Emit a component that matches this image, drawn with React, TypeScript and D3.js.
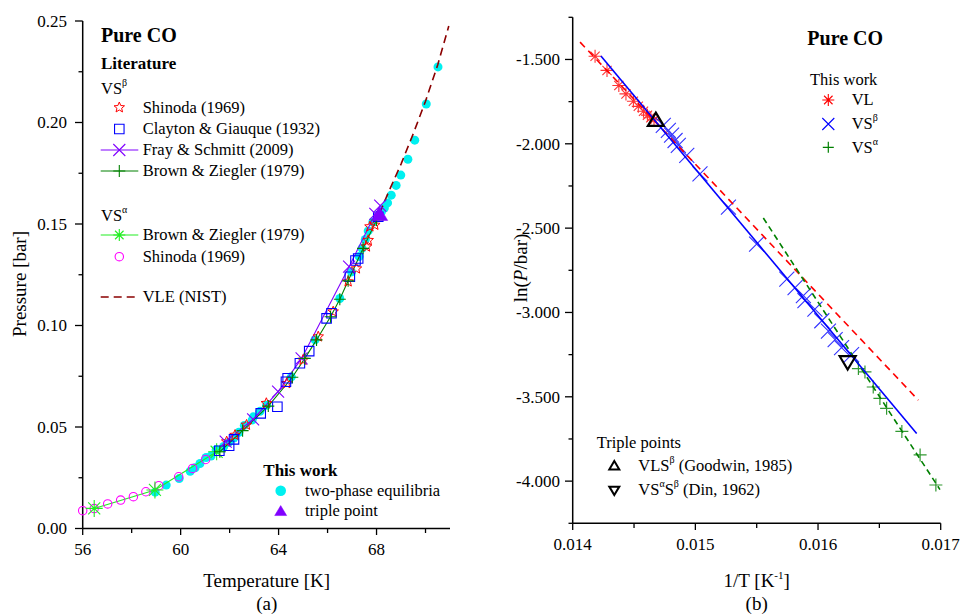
import React from 'react';
import * as d3 from 'd3';

// ---------- Data: left panel (T [K], P [bar]) ----------
const shinodaBeta: [number, number][] = [[61.88,0.0428],[62.22,0.046],[62.69,0.051],[63.5,0.0617],[64.33,0.0715],[65.0,0.083],[65.62,0.0945],[66.23,0.1068],[66.84,0.1216],[67.18,0.128],[67.59,0.1388],[67.66,0.142],[67.73,0.1487],[67.93,0.1495]];
const claytonGiauque: [number, number][] = [[61.58,0.0383],[61.98,0.0408],[62.18,0.0439],[63.27,0.0567],[63.95,0.060],[64.30,0.0723],[64.37,0.074],[64.87,0.0814],[65.25,0.0874],[65.96,0.1035],[66.16,0.106],[66.91,0.124],[67.14,0.132],[67.25,0.133],[68.07,0.1536]];
const fraySchmitt: [number, number][] = [[61.84,0.0428],[62.96,0.0538],[63.98,0.0674],[64.94,0.0838],[66.88,0.129],[67.95,0.155],[68.15,0.159]];
const brownZieglerBeta: [number, number][] = [[61.6,0.0378],[62.53,0.0482],[63.58,0.0603],[64.56,0.0745],[65.07,0.0838],[65.55,0.0929],[66.12,0.1043],[66.5,0.1129],[66.84,0.122],[67.45,0.138],[68.0,0.152]];
const brownZieglerAlpha: [number, number][] = [[56.47,0.0099],[58.95,0.019],[61.47,0.0378]];
const shinodaAlpha: [number, number][] = [[56.0,0.0088],[56.47,0.0098],[57.02,0.0121],[57.55,0.014],[58.07,0.0157],[58.58,0.0181],[59.11,0.0211],[59.92,0.0255],[60.49,0.0296],[61.02,0.034]];
const vleNist: [number, number][] = [[68.13,0.1554],[68.5,0.166],[69.0,0.1795],[69.5,0.1945],[70.0,0.2105],[70.5,0.2285],[70.95,0.2475]];

// This work (T [K], P [bar])
const thisWorkVL: [number, number][] = [[70.51,0.2274],[70.03,0.2091],[69.56,0.1913],[69.28,0.1819],[68.99,0.1741],[68.80,0.1690],[68.60,0.1642],[68.45,0.1604],[68.32,0.1579],[68.20,0.1560]];
const thisWorkVSBeta: [number, number][] = [[67.85,0.151],[67.66,0.1466],[67.54,0.1424],[67.41,0.138],[67.29,0.134],[66.98,0.1264],[66.50,0.1133],[65.49,0.093],[64.52,0.0747],[63.51,0.0607],[63.24,0.0577],[62.97,0.055],[62.92,0.0534],[62.60,0.0508],[62.38,0.0474],[62.17,0.0446],[61.96,0.0424],[61.76,0.0404],[61.45,0.0388]];
const thisWorkVSAlpha: [number, number][] = [[61.24,0.0357],[61.04,0.035],[60.79,0.032],[60.59,0.0299],[60.39,0.0282],[59.94,0.0246],[59.41,0.0214],[58.96,0.0179]];
const thisWorkTriple: [number, number][] = [[68.13,0.1544]];

// Triple points from literature (T [K], P [bar])
const goodwinVLS: [number, number][] = [[68.13,0.1554]];
const dinVSS: [number, number][] = [[61.57,0.0372]];

// Fit lines, right panel (1/T [1/K], ln(P/bar))
const vlFit: [number, number][] = [[0.01406,-1.397],[0.016818,-3.52]];
const vsBetaFit: [number, number][] = [[0.01423,-1.48],[0.016804,-3.718]];
const vsAlphaFit: [number, number][] = [[0.015554,-2.44],[0.016994,-4.05]];

// Ticks
const leftXMajor = [56, 60, 64, 68];
const leftXMinor = [58, 62, 66, 70];
const leftYMajor = [0, 0.05, 0.1, 0.15, 0.2, 0.25];
const leftYMinor = [0.025, 0.075, 0.125, 0.175, 0.225];
const rightXMajor = [0.014, 0.015, 0.016, 0.017];
const rightXMinor = [0.0145, 0.0155, 0.0165];
const rightYMajor = [-4.0, -3.5, -3.0, -2.5, -2.0, -1.5];
const rightYMinor = [-4.25, -3.75, -3.25, -2.75, -2.25, -1.75, -1.25];

const FONT = "'Liberation Serif','Times New Roman',serif";
const C = {
  red: '#ff0000', blue: '#0000ff', purple: '#8000ff', green: '#008000',
  lime: '#22ee22', magenta: '#ff00ff', cyan: '#00f0f0', darkred: '#8b0000',
};

function markerPath(kind: string, s: number): string {
  const h = s / 2;
  switch (kind) {
    case 'x': return `M${-h},${-h}L${h},${h}M${-h},${h}L${h},${-h}`;
    case 'plus': return `M${-h},0L${h},0M0,${-h}L0,${h}`;
    case 'ast': {
      const d = h * 0.7071;
      return `M${-h},0L${h},0M0,${-h}L0,${h}M${-d},${-d}L${d},${d}M${-d},${d}L${d},${-d}`;
    }
    case 'square': return `M${-h},${-h}H${h}V${h}H${-h}Z`;
    case 'star': {
      let p = '';
      for (let i = 0; i < 10; i++) {
        const r = i % 2 === 0 ? h : h * 0.45;
        const a = -Math.PI / 2 + (i * Math.PI) / 5;
        p += (i === 0 ? 'M' : 'L') + (r * Math.cos(a)).toFixed(2) + ',' + (r * Math.sin(a)).toFixed(2);
      }
      return p + 'Z';
    }
    case 'tri': {
      const hh = h * 0.9;
      return `M0,${-hh * 1.1}L${h},${hh * 0.75}L${-h},${hh * 0.75}Z`;
    }
    case 'triDown': {
      const hh = h * 0.9;
      return `M0,${hh * 1.1}L${h},${-hh * 0.75}L${-h},${-hh * 0.75}Z`;
    }
  }
  return '';
}

type Pt = [number, number];

function Markers({ pts, kind, size, stroke, fill = 'none', sw = 1, opacity = 1 }:
  { pts: Pt[]; kind: string; size: number; stroke: string; fill?: string; sw?: number; opacity?: number }) {
  const d = markerPath(kind, size);
  return (
    <g opacity={opacity}>
      {pts.map((p, i) => (
        <path key={i} d={d} transform={`translate(${p[0]},${p[1]})`} stroke={stroke} fill={fill} strokeWidth={sw} strokeLinejoin="miter" />
      ))}
    </g>
  );
}

export default function App() {
  // Left scales
  const xL = d3.scaleLinear().domain([56, 71]).range([82.7, 450]);
  const yL = d3.scaleLinear().domain([0, 0.25]).range([528.5, 21]);
  // Right scales
  const xR = d3.scaleLinear().domain([0.014, 0.017]).range([572.7, 940.7]);
  const yR = d3.scaleLinear().domain([-4.25, -1.25]).range([523.3, 17.3]);

  const pL = (a: Pt[]): Pt[] => a.map(([t, p]) => [xL(t), yL(p)]);
  const pR = (a: Pt[]): Pt[] => a.map(([t, p]) => [xR(1 / t), yR(Math.log(p))]);
  const pRfit = (a: Pt[]): Pt[] => a.map(([x, y]) => [xR(x), yR(y)]);
  const line = d3.line<Pt>().x(d => d[0]).y(d => d[1]);
  const byT = (a: Pt[]) => [...a].sort((u, v) => u[0] - v[0]);

  const cyanAll = [...thisWorkVSAlpha, ...thisWorkVSBeta, ...thisWorkVL];

  const tickFont = { fontFamily: FONT, fontSize: 17 } as const;
  const legFont = { fontFamily: FONT, fontSize: 16.5 } as const;

  // Left legend layout
  const lgSymX = 119.3, lgTxtX = 142.7, lgL0 = 100.7, lgL1 = 138.3;
  const legRow = (cy: number, label: string, sym: React.ReactNode, lineCol?: string, dash?: string) => (
    <g>
      {lineCol && <line x1={lgL0} x2={lgL1} y1={cy} y2={cy} stroke={lineCol} strokeWidth={dash ? 1.6 : 1.2} strokeDasharray={dash} />}
      {sym}
      <text x={lgTxtX} y={cy} dy="0.33em" style={legFont}>{label}</text>
    </g>
  );
  const sym = (kind: string, size: number, stroke: string, cy: number, fill = 'none', sw = 1) => (
    <path d={markerPath(kind, size)} transform={`translate(${lgSymX},${cy})`} stroke={stroke} fill={fill} strokeWidth={sw} />
  );

  return (
    <svg width={961} height={615} style={{ position: 'absolute', left: 0, top: 0, background: '#fff' }}>
      <rect width={961} height={615} fill="#fff" />
      {/* ================= LEFT PANEL ================= */}
      <g>
        {/* axes */}
        <line x1={82.7} x2={82.7} y1={21} y2={528.5} stroke="#000" strokeWidth={1.5} />
        <line x1={82.7} x2={450} y1={528.5} y2={528.5} stroke="#000" strokeWidth={1.5} />
        {leftXMajor.map(v => (
          <g key={'lxm' + v}>
            <line x1={xL(v)} x2={xL(v)} y1={528.5} y2={535} stroke="#000" strokeWidth={1.3} />
            <text x={xL(v)} y={555} textAnchor="middle" style={tickFont}>{v}</text>
          </g>
        ))}
        {leftXMinor.map(v => (
          <line key={'lxn' + v} x1={xL(v)} x2={xL(v)} y1={528.5} y2={533} stroke="#000" strokeWidth={1.3} />
        ))}
        {leftYMajor.map(v => (
          <g key={'lym' + v}>
            <line x1={75} x2={82.7} y1={yL(v)} y2={yL(v)} stroke="#000" strokeWidth={1.3} />
            <text x={67} y={yL(v)} dy="0.34em" textAnchor="end" style={tickFont}>{v.toFixed(2)}</text>
          </g>
        ))}
        {leftYMinor.map(v => (
          <line key={'lyn' + v} x1={78.5} x2={82.7} y1={yL(v)} y2={yL(v)} stroke="#000" strokeWidth={1.3} />
        ))}
        <text x={266.7} y={587} textAnchor="middle" style={{ fontFamily: FONT, fontSize: 19 }}>Temperature [K]</text>
        <text x={266.7} y={610} textAnchor="middle" style={{ fontFamily: FONT, fontSize: 19 }}>(a)</text>
        <text transform="translate(26,284) rotate(-90)" textAnchor="middle" style={{ fontFamily: FONT, fontSize: 19 }}>Pressure [bar]</text>

        {/* this work cyan */}
        {pL(cyanAll).map((p, i) => <circle key={'cy' + i} cx={p[0]} cy={p[1]} r={4.5} fill={C.cyan} />)}
        {/* VLE NIST */}
        <path d={line(pL(vleNist)) || ''} fill="none" stroke={C.darkred} strokeWidth={1.6} strokeDasharray="8,5" />
        {/* literature lines */}
        <path d={line(pL(byT(fraySchmitt))) || ''} fill="none" stroke={C.purple} strokeWidth={1.1} />
        <path d={line(pL(byT(brownZieglerBeta))) || ''} fill="none" stroke={C.green} strokeWidth={1.1} />
        <path d={line(pL(byT(brownZieglerAlpha))) || ''} fill="none" stroke={C.lime} strokeWidth={1.1} />
        {/* literature markers */}
        <Markers pts={pL(shinodaAlpha)} kind="circle" size={0} stroke={C.magenta} />
        {pL(shinodaAlpha).map((p, i) => <circle key={'sa' + i} cx={p[0]} cy={p[1]} r={4.2} fill="none" stroke={C.magenta} strokeWidth={1.1} />)}
        <Markers pts={pL(brownZieglerAlpha)} kind="ast" size={17} stroke={C.lime} sw={1.1} />
        <Markers pts={pL(shinodaBeta)} kind="star" size={11} stroke={C.red} sw={1} />
        <Markers pts={pL(claytonGiauque)} kind="square" size={9.5} stroke={C.blue} sw={1.1} />
        <Markers pts={pL(fraySchmitt)} kind="x" size={12} stroke={C.purple} sw={1.1} />
        <Markers pts={pL(brownZieglerBeta)} kind="plus" size={12} stroke={C.green} sw={1.1} />
        {/* triple point this work */}
        <Markers pts={pL(thisWorkTriple)} kind="tri" size={16} stroke={C.purple} fill={C.purple} sw={0.5} />

        {/* legend */}
        <text x={101} y={42} style={{ fontFamily: FONT, fontSize: 20, fontWeight: 'bold' }}>Pure CO</text>
        <text x={101} y={69} style={{ fontFamily: FONT, fontSize: 17, fontWeight: 'bold' }}>Literature</text>
        <text x={101} y={94} style={legFont}>VS<tspan dy={-8} fontSize={10}>β</tspan></text>
        {legRow(107.5, 'Shinoda (1969)', sym('star', 11, C.red, 107.5))}
        {legRow(129, 'Clayton & Giauque (1932)', sym('square', 9.5, C.blue, 129, 'none', 1.1))}
        {legRow(150, 'Fray & Schmitt (2009)', sym('x', 12, C.purple, 150, 'none', 1.1), C.purple)}
        {legRow(171, 'Brown & Ziegler (1979)', sym('plus', 12, C.green, 171, 'none', 1.1), C.green)}
        <text x={101} y={221} style={legFont}>VS<tspan dy={-8} fontSize={10}>α</tspan></text>
        {legRow(235, 'Brown & Ziegler (1979)', sym('ast', 12, C.lime, 235, 'none', 1.1), C.lime)}
        {legRow(256.7, 'Shinoda (1969)', <circle cx={lgSymX} cy={256.7} r={4.2} fill="none" stroke={C.magenta} strokeWidth={1.1} />)}
        {legRow(297, 'VLE (NIST)', null, C.darkred, '8,5')}

        <text x={263.3} y={475.5} style={{ fontFamily: FONT, fontSize: 17, fontWeight: 'bold' }}>This work</text>
        <circle cx={280.7} cy={490.7} r={5.3} fill={C.cyan} />
        <text x={305} y={490.7} dy="0.33em" style={legFont}>two-phase equilibria</text>
        <path d={markerPath('tri', 12)} transform="translate(280.7,511.5)" fill={C.purple} stroke={C.purple} strokeWidth={0.5} />
        <text x={305} y={511} dy="0.33em" style={legFont}>triple point</text>
      </g>

      {/* ================= RIGHT PANEL ================= */}
      <g>
        <line x1={572.7} x2={572.7} y1={17.3} y2={523.3} stroke="#000" strokeWidth={1.5} />
        <line x1={572.7} x2={940.7} y1={523.3} y2={523.3} stroke="#000" strokeWidth={1.5} />
        {rightXMajor.map(v => (
          <g key={'rxm' + v}>
            <line x1={xR(v)} x2={xR(v)} y1={523.3} y2={530} stroke="#000" strokeWidth={1.3} />
            <text x={xR(v)} y={550} textAnchor="middle" style={tickFont}>{v.toFixed(3)}</text>
          </g>
        ))}
        {rightXMinor.map(v => (
          <line key={'rxn' + v} x1={xR(v)} x2={xR(v)} y1={523.3} y2={528} stroke="#000" strokeWidth={1.3} />
        ))}
        {rightYMajor.map(v => (
          <g key={'rym' + v}>
            <line x1={565} x2={572.7} y1={yR(v)} y2={yR(v)} stroke="#000" strokeWidth={1.3} />
            <text x={560} y={yR(v)} dy="0.34em" textAnchor="end" style={tickFont}>{v.toFixed(3)}</text>
          </g>
        ))}
        {rightYMinor.map(v => (
          <line key={'ryn' + v} x1={568.5} x2={572.7} y1={yR(v)} y2={yR(v)} stroke="#000" strokeWidth={1.3} />
        ))}
        <text x={756.7} y={587} textAnchor="middle" style={{ fontFamily: FONT, fontSize: 19 }}>1/T [K<tspan dy={-8} fontSize={11}>-1</tspan><tspan dy={8}>]</tspan></text>
        <text x={756.7} y={610} textAnchor="middle" style={{ fontFamily: FONT, fontSize: 19 }}>(b)</text>
        <text transform="translate(527,268) rotate(-90)" textAnchor="middle" style={{ fontFamily: FONT, fontSize: 19 }}>ln(<tspan fontStyle="italic">P</tspan>/bar)</text>

        {/* markers */}
        <Markers pts={pR(thisWorkVL)} kind="ast" size={13} stroke={C.red} sw={1.1} opacity={0.8} />
        <Markers pts={pR(thisWorkVSBeta)} kind="x" size={15} stroke={C.blue} sw={1.1} opacity={0.8} />
        <Markers pts={pR(thisWorkVSAlpha)} kind="plus" size={13} stroke={C.green} sw={1.2} opacity={0.8} />
        {/* fit lines */}
        <path d={line(pRfit(vlFit)) || ''} fill="none" stroke={C.red} strokeWidth={1.6} strokeDasharray="7,5" />
        <path d={line(pRfit(vsAlphaFit)) || ''} fill="none" stroke={C.green} strokeWidth={1.6} strokeDasharray="6,4" />
        <path d={line(pRfit(vsBetaFit)) || ''} fill="none" stroke={C.blue} strokeWidth={1.6} />
        {/* triple points */}
        <Markers pts={pR(goodwinVLS)} kind="tri" size={16} stroke="#000" sw={2.2} />
        <Markers pts={pR(dinVSS)} kind="triDown" size={16} stroke="#000" sw={2.2} />

        {/* legend */}
        <text x={807.3} y={45} style={{ fontFamily: FONT, fontSize: 20, fontWeight: 'bold' }}>Pure CO</text>
        <text x={810} y={85} style={legFont}>This work</text>
        <path d={markerPath('ast', 12)} transform="translate(828.3,100)" stroke={C.red} fill="none" strokeWidth={1.1} />
        <text x={851.7} y={100} dy="0.33em" style={legFont}>VL</text>
        <path d={markerPath('x', 12)} transform="translate(828.3,124)" stroke={C.blue} fill="none" strokeWidth={1.1} />
        <text x={851.7} y={124} dy="0.33em" style={legFont}>VS<tspan dy={-8} fontSize={10}>β</tspan></text>
        <path d={markerPath('plus', 11)} transform="translate(828.3,147.3)" stroke={C.green} fill="none" strokeWidth={1.2} />
        <text x={851.7} y={147.3} dy="0.33em" style={legFont}>VS<tspan dy={-8} fontSize={10}>α</tspan></text>

        <text x={596.7} y={447.5} style={legFont}>Triple points</text>
        <path d={markerPath('tri', 10)} transform="translate(614.3,466)" stroke="#000" fill="none" strokeWidth={2} />
        <text x={638.3} y={465.7} dy="0.33em" style={legFont}>VLS<tspan dy={-8} fontSize={10}>β</tspan><tspan dy={8}> (Goodwin, 1985)</tspan></text>
        <path d={markerPath('triDown', 10)} transform="translate(614.3,490)" stroke="#000" fill="none" strokeWidth={2} />
        <text x={638.3} y={490} dy="0.33em" style={legFont}>VS<tspan dy={-8} fontSize={10}>α</tspan><tspan dy={8}>S</tspan><tspan dy={-8} fontSize={10}>β</tspan><tspan dy={8}> (Din, 1962)</tspan></text>
      </g>
    </svg>
  );
}
